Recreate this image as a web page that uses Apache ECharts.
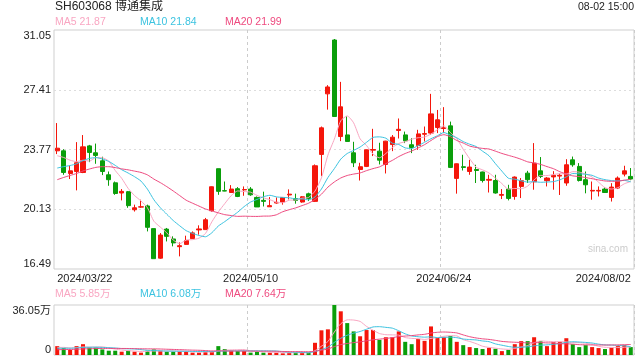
<!DOCTYPE html>
<html><head><meta charset="utf-8">
<script src="https://cdn.jsdelivr.net/npm/echarts@6/dist/echarts.min.js"></script>
<style>html,body{margin:0;padding:0;background:#fff}#c{width:640px;height:360px}</style>
</head><body><div id="c"></div>
<script>
const dates = [
'2024/03/22','2024/03/25','2024/03/26','2024/03/27','2024/03/28','2024/03/29',
'2024/04/01','2024/04/02','2024/04/03','2024/04/08','2024/04/09','2024/04/10','2024/04/11','2024/04/12',
'2024/04/15','2024/04/16','2024/04/17','2024/04/18','2024/04/19','2024/04/22','2024/04/23','2024/04/24',
'2024/04/25','2024/04/26','2024/04/29','2024/04/30',
'2024/05/06','2024/05/07','2024/05/08','2024/05/09','2024/05/10','2024/05/13','2024/05/14','2024/05/15',
'2024/05/16','2024/05/17','2024/05/20','2024/05/21','2024/05/22','2024/05/23','2024/05/24','2024/05/27',
'2024/05/28','2024/05/29','2024/05/30','2024/05/31',
'2024/06/03','2024/06/04','2024/06/05','2024/06/06','2024/06/07','2024/06/11','2024/06/12','2024/06/13',
'2024/06/14','2024/06/17','2024/06/18','2024/06/19','2024/06/20','2024/06/21','2024/06/24','2024/06/25',
'2024/06/26','2024/06/27','2024/06/28',
'2024/07/01','2024/07/02','2024/07/03','2024/07/04','2024/07/05','2024/07/08','2024/07/09','2024/07/10',
'2024/07/11','2024/07/12','2024/07/15','2024/07/16','2024/07/17','2024/07/18','2024/07/19','2024/07/22',
'2024/07/23','2024/07/24','2024/07/25','2024/07/26','2024/07/29','2024/07/30','2024/07/31',
'2024/08/01','2024/08/02'];

const opens = [23.69,23.69,22.31,22.43,22.37,23.99,23.57,23.08,22.23,21.74,
21.12,21.20,20.10,20.26,20.33,18.95,17.15,18.92,18.32,17.85,
17.99,18.34,18.87,18.89,20.04,22.60,21.26,21.15,21.38,21.31,
21.36,20.85,20.67,20.28,20.51,20.57,21.00,20.77,20.57,21.07,
20.61,23.47,27.16,30.44,24.56,24.66,23.57,22.55,22.74,23.73,
23.67,22.86,24.07,24.93,24.66,24.06,24.01,24.70,24.77,25.11,
25.05,25.21,22.01,22.72,22.43,22.55,22.40,21.90,21.88,20.98,
21.36,20.91,21.52,22.33,21.80,22.47,21.87,22.10,22.15,21.73,
23.14,22.74,21.93,21.24,21.24,21.36,20.85,21.42,22.27,22.13];
const closes = [23.85,22.37,22.47,22.96,23.93,23.59,23.41,22.43,21.93,21.09,
21.22,20.35,20.22,20.28,19.03,17.12,18.56,18.48,18.08,17.91,
18.23,18.69,18.93,19.49,21.50,21.22,21.24,21.36,20.91,21.33,
21.01,20.27,20.61,20.35,20.55,20.85,21.05,20.67,20.89,20.79,
22.78,25.09,27.58,25.78,26.37,24.26,22.96,22.72,23.75,23.77,
23.12,24.28,24.52,25.00,24.30,23.89,24.72,24.74,25.94,25.58,
25.09,22.68,22.90,22.68,22.70,22.49,21.88,21.95,21.12,21.03,
20.79,22.09,21.87,21.93,22.94,22.13,22.03,22.20,22.20,22.84,
22.84,21.88,21.62,21.28,21.28,21.15,21.48,22.03,22.47,21.97];
const lows = [23.49,22.23,21.97,21.28,22.33,23.00,22.90,22.21,21.56,21.01,
20.67,20.22,19.99,20.22,18.78,17.12,17.11,18.17,17.87,17.26,
17.97,18.32,18.58,18.89,19.99,21.01,21.23,21.15,20.87,20.95,
20.95,20.27,20.30,20.27,20.47,20.41,20.73,20.47,20.53,20.63,
20.57,22.15,26.20,25.78,24.28,24.26,22.70,21.88,22.70,23.37,
22.86,22.31,23.67,24.44,24.16,23.55,23.75,24.26,24.66,24.77,
24.77,22.64,21.08,22.49,22.23,21.73,21.76,21.15,21.08,20.75,
20.67,20.71,20.81,21.73,21.32,22.03,21.52,21.32,21.00,21.56,
22.72,21.82,21.10,20.71,20.91,21.12,20.60,21.36,22.13,21.90];
const highs = [25.38,23.79,22.78,24.22,24.65,24.05,24.13,23.33,22.43,21.82,
21.36,21.24,20.41,20.71,20.41,18.95,18.68,18.99,18.48,18.11,
18.52,18.78,19.15,19.60,21.52,22.60,21.82,21.60,21.48,21.52,
21.48,20.91,21.20,20.87,20.85,20.87,21.34,21.08,20.93,21.14,
22.86,25.17,27.69,30.50,27.89,25.80,24.24,22.96,23.77,25.03,
24.18,24.30,24.65,25.66,24.86,24.46,24.97,25.17,27.16,26.18,
26.35,25.47,22.92,23.45,23.14,22.84,22.42,22.23,22.23,21.36,
21.62,22.13,22.03,22.47,24.16,23.31,22.09,22.45,22.30,23.18,
23.34,22.94,22.43,21.82,21.52,21.48,21.72,22.13,22.78,22.64];
// volume in 万 shares
const volumes = [6.4,5.0,3.6,6.4,7.8,5.5,5.5,4.0,3.1,3.1,
2.4,3.1,2.4,1.7,3.1,4.0,3.1,2.4,2.4,2.4,
2.4,1.7,1.7,2.4,2.4,6.4,4.3,3.1,2.9,2.9,
1.7,2.4,1.7,1.7,1.7,1.2,1.7,1.7,1.7,1.7,
8.8,17.8,18.5,36.05,31.5,23.0,17.0,13.5,18.0,18.0,
10.9,12.8,12.8,17.0,9.5,7.8,11.6,10.2,20.6,12.3,
12.8,13.7,9.5,7.1,5.7,5.0,4.3,5.2,4.5,2.8,
3.6,7.8,10.0,10.0,12.8,10.0,6.4,9.2,9.5,12.1,
7.8,5.7,7.1,5.7,5.0,4.3,5.2,6.4,7.1,5.7];
// estimated closes / volumes of the 19 sessions before the window (feed the moving averages)
const priorCloses = [19.6,20.1,20.5,20.9,21.2,21.4,21.6,21.9,22.2,22.8,21.5,21.8,21.9,22.0,22.25,22.9,23.3,23.4,23.5];
const priorVolumes = [2.5,2.8,3.0,2.6,2.9,2.7,3.1,2.8,2.6,3.0,3.8,4.2,4.0,4.3,4.2,5.0,5.6,5.2,5.3];
const priceTicks = [16.49, 31.05];   // axis min / max
const priceInterval = 3.64;
const volumeMax = 36.05;
const labelIdx = [0, 30, 60, 89];
const splitIdx = [30, 60];
const maTexts = ['MA5 21.87', 'MA10 21.84', 'MA20 21.99'];
const volMaTexts = ['MA5 5.85万', 'MA10 6.08万', 'MA20 7.64万'];

const UP = '#f4160b', DOWN = '#0a9e0a';
const MA_COLORS = ['#f9a6c2', '#3cc3e0', '#ee4a7f'];

function movingAvg(n, arr, prior) {
  const all = prior.concat(arr);
  const off = prior.length;
  return arr.map((_, i) => {
    let s = 0;
    for (let k = 0; k < n; k++) s += all[off + i - k];
    return +(s / n).toFixed(3);
  });
}
const ohlc = dates.map((d, i) => [opens[i], closes[i], lows[i], highs[i]]);
const volData = volumes.map((v, i) => ({ value: v, itemStyle: { color: closes[i] >= opens[i] ? UP : DOWN } }));

const FONT = '"Liberation Sans", Arial, "Noto Sans CJK SC", sans-serif';
const chart = echarts.init(document.getElementById('c'), null, { renderer: 'canvas' });
const grids = [
  { left: 54, right: 6, top: 30, height: 239, show: true, borderColor: '#cfcfcf', borderWidth: 1 },
  { left: 54, right: 6, top: 305, height: 50, show: true, borderColor: '#cfcfcf', borderWidth: 1 }
];
const splitX = { show: true, interval: (i) => splitIdx.includes(i), lineStyle: { color: '#cccccc', type: [3, 3], width: 1 } };

function legendGraphics(texts, y) {
  const xs = [55, 140, 225];
  return texts.map((t, i) => ({ type: 'text', left: xs[i], top: y, style: { text: t, fill: MA_COLORS[i], font: '10.5px ' + FONT } }));
}

chart.setOption({
  animation: false,
  backgroundColor: '#fff',
  grid: grids,
  xAxis: [
    { type: 'category', gridIndex: 0, data: dates, boundaryGap: true,
      axisLine: { show: false }, axisTick: { show: false },
      axisLabel: { interval: (i) => labelIdx.includes(i), color: '#222', fontSize: 11, fontFamily: FONT, margin: 4,
                   alignMinLabel: 'left', alignMaxLabel: 'right', showMinLabel: true, showMaxLabel: true },
      splitLine: splitX },
    { type: 'category', gridIndex: 1, data: dates, boundaryGap: true,
      axisLine: { show: false }, axisTick: { show: false }, axisLabel: { show: false },
      splitLine: splitX }
  ],
  yAxis: [
    { type: 'value', gridIndex: 0, min: priceTicks[0], max: priceTicks[1], interval: priceInterval, scale: true,
      axisLine: { show: false }, axisTick: { show: false },
      axisLabel: { color: '#222', fontSize: 11, fontFamily: FONT, margin: 3, formatter: v => v.toFixed(2),
                   verticalAlignMinLabel: 'bottom', verticalAlignMaxLabel: 'top' },
      splitLine: { show: true, showMinLine: false, showMaxLine: false, lineStyle: { color: '#dddddd', type: [2, 3], width: 1 } } },
    { type: 'value', gridIndex: 1, min: 0, max: volumeMax, interval: volumeMax,
      axisLine: { show: false }, axisTick: { show: false },
      axisLabel: { color: '#222', fontSize: 11, fontFamily: FONT, margin: 3,
                   formatter: v => v === 0 ? '0' : v.toFixed(2) + '万',
                   verticalAlignMinLabel: 'bottom', verticalAlignMaxLabel: 'top' },
      splitLine: { show: false } }
  ],
  series: [
    { type: 'candlestick', xAxisIndex: 0, yAxisIndex: 0, data: ohlc, barWidth: '72%',
      itemStyle: { color: UP, color0: DOWN, borderColor: UP, borderColor0: DOWN, borderWidth: 1 } },
    { type: 'line', xAxisIndex: 0, yAxisIndex: 0, data: movingAvg(5, closes, priorCloses), showSymbol: false, smooth: 0.2,
      lineStyle: { color: MA_COLORS[0], width: 1 }, z: 3 },
    { type: 'line', xAxisIndex: 0, yAxisIndex: 0, data: movingAvg(10, closes, priorCloses), showSymbol: false, smooth: 0.2,
      lineStyle: { color: MA_COLORS[1], width: 1 }, z: 3 },
    { type: 'line', xAxisIndex: 0, yAxisIndex: 0, data: movingAvg(20, closes, priorCloses), showSymbol: false, smooth: 0.2,
      lineStyle: { color: MA_COLORS[2], width: 1 }, z: 3 },
    { type: 'bar', xAxisIndex: 1, yAxisIndex: 1, data: volData, barWidth: 4 },
    { type: 'line', xAxisIndex: 1, yAxisIndex: 1, data: movingAvg(5, volumes, priorVolumes), showSymbol: false, smooth: 0.2,
      lineStyle: { color: MA_COLORS[0], width: 1 }, z: 3 },
    { type: 'line', xAxisIndex: 1, yAxisIndex: 1, data: movingAvg(10, volumes, priorVolumes), showSymbol: false, smooth: 0.2,
      lineStyle: { color: MA_COLORS[1], width: 1 }, z: 3 },
    { type: 'line', xAxisIndex: 1, yAxisIndex: 1, data: movingAvg(20, volumes, priorVolumes), showSymbol: false, smooth: 0.2,
      lineStyle: { color: MA_COLORS[2], width: 1 }, z: 3 }
  ],
  graphic: [
    { type: 'text', left: 55, top: 1, style: { text: 'SH603068 博通集成', fill: '#222', font: '12px ' + FONT } },
    { type: 'text', right: 6, top: 2, style: { text: '08-02 15:00', fill: '#222', font: '10.5px ' + FONT } },
    { type: 'text', right: 12, top: 244, style: { text: 'sina.com', fill: '#cccccc', font: '10px ' + FONT } }
  ].concat(legendGraphics(maTexts, 17)).concat(legendGraphics(volMaTexts, 289))
});
</script></body></html>
